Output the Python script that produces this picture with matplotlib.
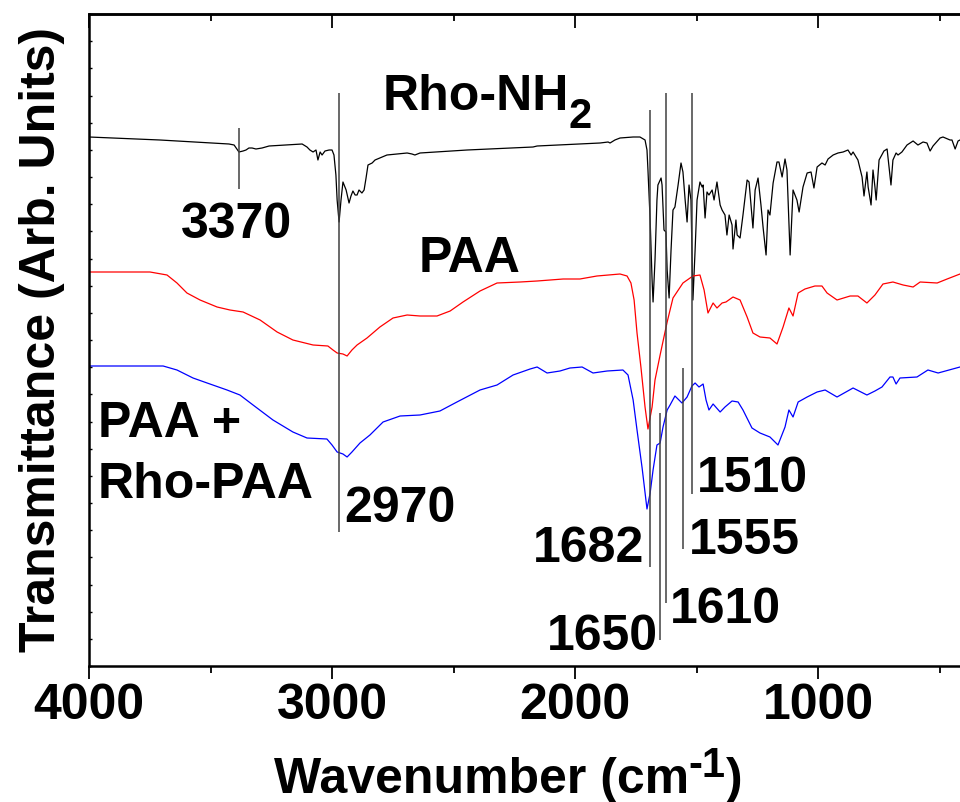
import matplotlib
matplotlib.use('Agg')
import matplotlib.pyplot as plt
import numpy as np
from matplotlib.ticker import FixedLocator, NullFormatter

# ---------------- data ----------------
rho_wn = [4000, 3708, 3424, 3403, 3383, 3366, 3354, 3342, 3329, 3313, 3288, 3259, 3193, 3123,
          3103, 3091, 3078, 3066, 3058, 3049, 3041, 3029, 3012, 3000, 2992, 2984, 2979, 2971,
          2963, 2955, 2942, 2930, 2922, 2914, 2905, 2897, 2889, 2881, 2877, 2868, 2860, 2852,
          2835, 2823, 2774, 2691, 2671, 2659, 2638, 2444, 2173, 2156, 1897, 1864, 1856, 1836,
          1815, 1761, 1733, 1712, 1704, 1700, 1691, 1683, 1679, 1671, 1663, 1659, 1646, 1642,
          1634, 1626, 1621, 1613, 1605, 1597, 1589, 1576, 1564, 1556, 1547, 1539, 1531, 1523,
          1515, 1506, 1498, 1486, 1477, 1473, 1465, 1457, 1449, 1436, 1428, 1416, 1403, 1395,
          1383, 1375, 1366, 1354, 1350, 1338, 1333, 1321, 1309, 1292, 1284, 1276, 1268, 1259,
          1247, 1235, 1226, 1214, 1206, 1198, 1185, 1169, 1161, 1148, 1136, 1128, 1115, 1103,
          1087, 1078, 1062, 1045, 1029, 1017, 1004, 984, 971, 959, 938, 918, 897, 877, 864,
          856, 836, 819, 811, 799, 794, 782, 774, 766, 761, 749, 729, 716, 700, 692, 679, 671,
          655, 634, 609, 589, 568, 552, 539, 527, 498, 486, 457, 449, 436, 424, 416]
rho_t = [52.9, 52.6, 52.2, 52.1, 51.4, 51.5, 51.6, 51.8, 51.8, 51.7, 51.8, 52.0, 52.1, 52.2,
         51.9, 51.6, 51.4, 51.6, 50.6, 51.4, 51.1, 51.5, 51.6, 51.6, 51.1, 49.1, 46.6, 44.4,
         46.6, 48.4, 47.6, 46.3, 47.0, 47.5, 47.1, 47.1, 47.6, 47.4, 47.3, 47.6, 48.8, 50.1,
         50.3, 50.6, 51.1, 51.3, 51.2, 51.1, 51.3, 51.6, 51.9, 52.0, 52.3, 52.4, 52.3, 52.6,
         52.8, 52.9, 52.9, 52.6, 51.6, 49.6, 44.6, 38.6, 36.4, 40.6, 46.6, 48.1, 48.8, 48.1,
         43.6, 43.4, 39.6, 36.8, 41.6, 45.6, 45.9, 48.1, 50.3, 49.4, 46.6, 44.4, 48.1, 46.6,
         36.6, 41.6, 46.6, 48.4, 47.9, 48.1, 44.8, 47.4, 47.1, 47.6, 46.6, 48.4, 46.1, 45.6,
         45.1, 43.1, 45.1, 44.1, 41.7, 44.6, 43.1, 42.8, 45.1, 48.6, 48.4, 46.1, 43.8, 47.6,
         48.8, 46.1, 43.8, 41.1, 45.6, 45.1, 48.3, 50.4, 50.4, 48.9, 50.7, 49.6, 41.1, 47.6,
         46.6, 45.4, 47.9, 49.3, 49.4, 47.8, 49.9, 50.3, 50.1, 50.7, 51.1, 51.3, 51.4, 51.6, 51.1,
         51.4, 50.6, 48.9, 47.0, 49.4, 47.9, 46.1, 49.6, 47.9, 46.6, 50.6, 51.5, 51.7, 48.1, 50.6,
         51.3, 51.1, 51.4, 52.1, 52.5, 52.1, 52.4, 52.3, 51.5, 52.0, 52.8, 52.9, 52.6, 52.6,
         51.7, 52.5, 52.6]

paa_wn = [4000, 3749, 3679, 3638, 3597, 3543, 3473, 3420, 3366, 3296, 3226, 3161, 3078, 3017,
          2996, 2979, 2955, 2938, 2918, 2897, 2856, 2803, 2749, 2691, 2638, 2568, 2514, 2461,
          2391, 2321, 2226, 2156, 2049, 1980, 1910, 1815, 1786, 1770, 1757, 1745, 1729, 1712,
          1700, 1683, 1671, 1650, 1621, 1597, 1556, 1515, 1486, 1469, 1453, 1432, 1416, 1395,
          1379, 1350, 1321, 1292, 1268, 1239, 1198, 1169, 1144, 1120, 1103, 1082, 1054, 1013,
          984, 963, 922, 868, 836, 799, 766, 733, 692, 650, 609, 580, 510, 469, 416]
paa_t = [39.4, 39.4, 39.1, 38.3, 37.3, 36.6, 35.9, 35.6, 35.4, 34.6, 33.4, 32.6, 32.1, 32.0,
         31.6, 31.3, 31.2, 31.0, 31.6, 32.1, 32.8, 33.9, 34.8, 35.1, 35.0, 35.0, 35.5, 36.4,
         37.5, 38.3, 38.4, 38.5, 38.7, 38.7, 39.0, 39.2, 39.0, 38.3, 36.6, 33.3, 29.9, 25.9,
         23.7, 25.9, 28.6, 31.1, 34.4, 36.8, 38.3, 39.0, 39.1, 37.6, 35.3, 36.3, 35.8, 36.3,
         36.4, 36.9, 36.6, 34.9, 33.3, 32.9, 32.8, 32.2, 33.9, 35.8, 35.0, 37.3, 37.7, 38.0,
         38.0, 37.3, 36.6, 37.0, 37.0, 36.3, 37.1, 38.2, 38.4, 38.1, 37.9, 38.4, 38.3, 38.7, 39.2]

mix_wn = [4000, 3695, 3638, 3572, 3514, 3432, 3379, 3325, 3243, 3161, 3103, 3021, 3000, 2979,
          2955, 2938, 2918, 2885, 2844, 2790, 2720, 2638, 2556, 2486, 2391, 2321, 2255, 2185,
          2156, 2115, 2062, 2021, 1971, 1926, 1868, 1803, 1782, 1761, 1745, 1724, 1704, 1691,
          1679, 1663, 1650, 1638, 1621, 1609, 1589, 1560, 1539, 1519, 1506, 1490, 1473, 1461,
          1449, 1432, 1403, 1383, 1354, 1329, 1309, 1272, 1239, 1198, 1165, 1136, 1120, 1103,
          1082, 1045, 1004, 971, 922, 856, 799, 766, 737, 704, 692, 679, 663, 593, 548, 506, 416]
mix_t = [30.0, 30.0, 29.6, 28.8, 28.3, 27.6, 27.1, 26.1, 24.6, 23.4, 22.8, 22.7, 22.1, 21.4,
         21.2, 20.9, 21.4, 22.3, 23.1, 24.4, 25.0, 25.1, 25.5, 26.4, 27.6, 28.1, 29.1, 29.7,
         29.9, 29.3, 29.5, 29.8, 29.9, 29.3, 29.5, 29.6, 29.1, 26.6, 23.6, 19.8, 15.7, 17.3,
         19.6, 22.1, 22.3, 23.9, 25.6, 26.1, 27.0, 26.3, 26.9, 28.0, 28.3, 27.9, 28.2, 26.6,
         25.6, 26.2, 25.4, 25.9, 26.5, 26.4, 25.6, 23.8, 23.3, 22.9, 22.1, 23.9, 25.6, 24.9,
         26.4, 26.9, 27.4, 27.6, 26.9, 27.8, 27.1, 27.5, 27.9, 28.9, 28.9, 28.2, 28.8, 28.9,
         29.6, 29.3, 29.9]

# marker lines: position (cm-1), top and bottom (arb. units)
mark_wn = [3383, 2971, 1692, 1652, 1627, 1557, 1520]
mark_top = [53.8, 57.3, 55.6, 25.3, 57.3, 29.8, 57.3]
mark_bot = [47.7, 13.4, 9.9, 2.6, 6.3, 11.7, 17.2]

# peak labels: text, x (cm-1, centre), baseline (arb. units)
peak_txt = ['3370', '2970', '1682', '1650', '1610', '1555', '1510']
peak_x = [3393, 2720, 1945, 1887, 1381, 1305, 1270]
peak_y = [42.8, 14.4, 10.4, 1.6, 4.3, 11.2, 17.4]

x_major = [4000, 3000, 2000, 1000]
x_minor = [3500, 2500, 1500, 500]

# ---------------- style ----------------
plt.rcParams['font.family'] = ['Liberation Sans', 'DejaVu Sans']
plt.rcParams['font.weight'] = 'bold'

FS = 36
SUB = 30

fig = plt.figure(figsize=(9.6, 8.02), dpi=100)
ax = fig.add_axes([89 / 960, 136 / 802, 871 / 960, 652 / 802])

ax.plot(rho_wn, rho_t, color='black', lw=0.9)
ax.plot(paa_wn, paa_t, color='#ff0000', lw=0.9)
ax.plot(mix_wn, mix_t, color='#0000ff', lw=0.9)

ax.vlines(mark_wn, mark_bot, mark_top, colors='#404040', lw=1.1)

for t, x, y in zip(peak_txt, peak_x, peak_y):
    ax.text(x, y, t, fontsize=FS, fontweight='bold', ha='center', va='baseline')

# Rho-NH2 with a large subscript
t_rho = ax.text(2025, 55.6, 'Rho-NH', fontsize=FS, fontweight='bold', ha='right', va='baseline')
ax.annotate('2', xy=(1, 0), xycoords=t_rho, xytext=(0, -5.4), textcoords='offset points',
            fontsize=SUB, fontweight='bold', ha='left', va='baseline')

ax.text(2436, 39.4, 'PAA', fontsize=FS, fontweight='bold', ha='center', va='baseline')
ax.text(3963, 22.9, 'PAA +', fontsize=FS, fontweight='bold', ha='left', va='baseline')
ax.text(3963, 16.8, 'Rho-PAA', fontsize=FS, fontweight='bold', ha='left', va='baseline')

ax.set_xlim(4000, 416)
ax.set_ylim(0, 65.2)

ax.xaxis.set_major_locator(FixedLocator(x_major))
ax.xaxis.set_minor_locator(FixedLocator(x_minor))
ax.set_xticklabels([str(v) for v in x_major])
ax.tick_params(axis='x', which='major', direction='out', length=9, width=1.3,
               labelsize=FS, pad=3, top=False)
ax.tick_params(axis='x', which='minor', direction='out', length=5, width=1.3, top=False)

ax.set_yticks(np.linspace(0, 65.2, 25))
ax.yaxis.set_major_formatter(NullFormatter())
ax.tick_params(axis='y', which='major', direction='in', length=2.5, width=1.0, right=False)

sec = ax.secondary_xaxis('top')
sec.xaxis.set_major_locator(FixedLocator(x_major))
sec.xaxis.set_minor_locator(FixedLocator(x_minor))
sec.xaxis.set_major_formatter(NullFormatter())
sec.tick_params(axis='x', which='major', direction='in', length=10, width=1.3)
sec.tick_params(axis='x', which='minor', direction='in', length=5, width=1.3)
sec.spines['top'].set_linewidth(1.8)

for s in ['left', 'bottom', 'top']:
    ax.spines[s].set_linewidth(1.8)
ax.spines['right'].set_visible(False)

for lab in ax.get_xticklabels():
    lab.set_fontweight('bold')

# x label built from pieces: "Wavenumber (cm" + superscript "-1" + ")"
t_xl = ax.text(0.212, -0.195, 'Wavenumber (cm', transform=ax.transAxes, fontsize=FS,
               fontweight='bold', ha='left', va='baseline', clip_on=False)
t_sup = ax.annotate('-1', xy=(1, 0), xycoords=t_xl, xytext=(0, 19.0), textcoords='offset points',
                    fontsize=SUB, fontweight='bold', ha='left', va='baseline',
                    annotation_clip=False)
ax.annotate(')', xy=(1, 0), xycoords=(t_sup, t_xl), xytext=(0, 7.6), textcoords='offset points',
            fontsize=FS, fontweight='bold', ha='left', va='baseline', annotation_clip=False)

ax.set_ylabel('Transmittance (Arb. Units)', fontsize=FS, fontweight='bold')
ax.yaxis.set_label_coords(-0.028, 0.5)

fig.savefig('out.png', dpi=100)
